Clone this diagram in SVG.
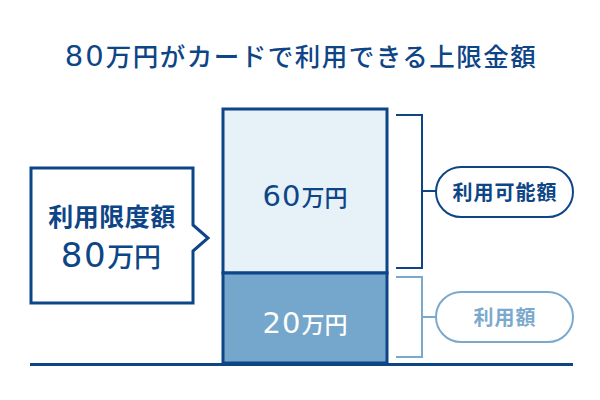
<svg xmlns="http://www.w3.org/2000/svg" width="600" height="400" viewBox="0 0 600 400">
<style>
text{font-family:"Noto Sans CJK JP","Noto Sans",sans-serif;text-anchor:middle}
.num{font-family:"DejaVu Sans","Noto Sans CJK JP",sans-serif}
.dark{fill:#0d4587}
.light{fill:#7ba9cd}
.ds{stroke:#0d4587;fill:none;stroke-width:2}
.ls{stroke:#7ba9cd;fill:none;stroke-width:2}
</style>
<rect width="600" height="400" fill="#ffffff"/>
<g id="title"><text x="301" y="66" class="dark" font-weight="500"><tspan class="num" font-size="29" letter-spacing="2">80</tspan><tspan font-size="25.5" letter-spacing="1.5">万円がカードで利用できる上限金額</tspan></text></g>
<g id="limit-box">
<path d="M31,168 H193 V225 L208,238 L193,251 V303 H31 Z" fill="#ffffff" stroke="#0d4587" stroke-width="3"/>
<text x="112" y="226" font-size="25" font-weight="bold" letter-spacing="0.5" class="dark">利用限度額</text>
<text x="111" y="267" class="dark"><tspan class="num" font-size="34" letter-spacing="1.5">80</tspan><tspan font-size="27" font-weight="500">万円</tspan></text>
</g>
<g id="bar-available">
<rect x="223" y="109" width="164" height="164" fill="#e6f1f8" stroke="#0d4587" stroke-width="3"/>
<text x="305" y="206" class="dark"><tspan class="num" font-size="29" letter-spacing="1">60</tspan><tspan font-size="23" font-weight="500">万円</tspan></text>
</g>
<g id="bar-used">
<rect x="223" y="273" width="164" height="90" fill="#74a7cb" stroke="#0d4587" stroke-width="3"/>
<text x="305" y="333" fill="#ffffff"><tspan class="num" font-size="29" letter-spacing="1">20</tspan><tspan font-size="23" font-weight="500">万円</tspan></text>
</g>
<g id="connectors">
<line x1="30" y1="364.5" x2="573" y2="364.5" stroke="#0d4587" stroke-width="3"/>
<path class="ds" d="M396,115 H422 V268 H396 M422,191 H436"/>
<path class="ls" d="M396,277 H422 V357 H396 M422,317 H436"/>
</g>
<g id="label-available">
<rect x="436" y="167" width="137" height="50" rx="25" class="ds"/>
<text x="505" y="200" font-size="20" font-weight="bold" letter-spacing="1" class="dark">利用可能額</text>
</g>
<g id="label-used">
<rect x="436" y="292" width="137" height="50" rx="25" class="ls"/>
<text x="505" y="325" font-size="20" font-weight="bold" letter-spacing="1" class="light">利用額</text>
</g>
</svg>
